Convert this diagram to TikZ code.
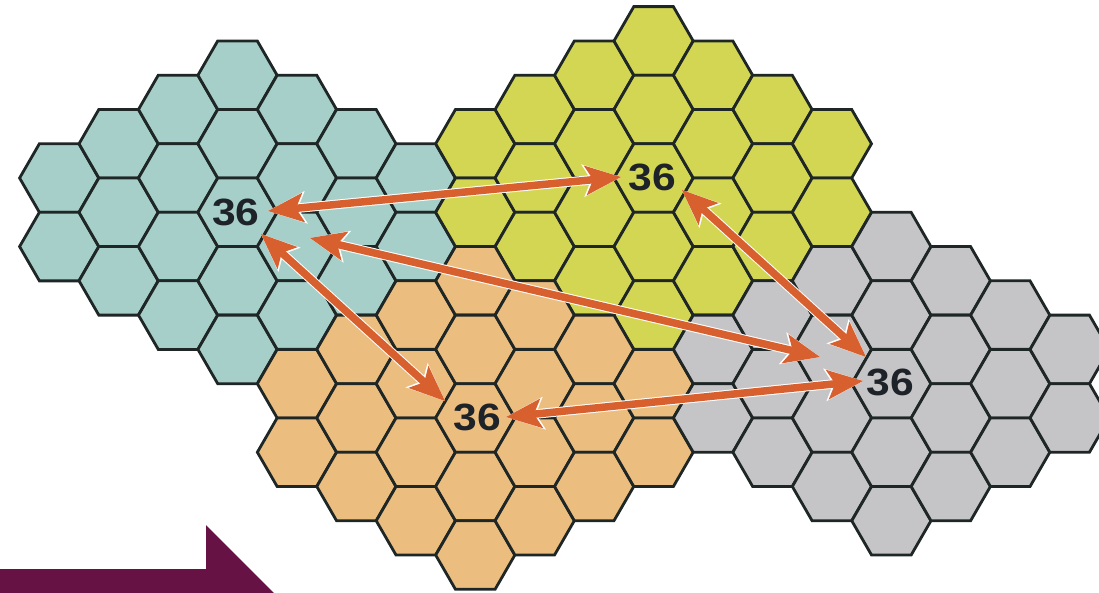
\documentclass[tikz,border=0pt]{standalone}
\usepackage{fontspec}
\newfontfamily\numfont{Liberation Sans}[FakeStretch=1.12]
\usetikzlibrary{arrows.meta}
\definecolor{cyanc}{HTML}{A6CFC9}
\definecolor{yelc}{HTML}{D2D652}
\definecolor{orac}{HTML}{EBBE80}
\definecolor{grac}{HTML}{C5C5C7}
\definecolor{edgec}{HTML}{1F2626}
\definecolor{arrc}{HTML}{D85F2E}
\definecolor{purc}{HTML}{661245}
\definecolor{numc}{HTML}{1E2229}
\newcommand\hexcluster[3]{%
  \foreach \hxdc in {-3,...,3}{%
    \pgfmathtruncatemacro\hxn{5-abs(\hxdc)}%
    \pgfmathtruncatemacro\hxnm{\hxn-1}%
    \foreach \hxk in {0,...,\hxnm}{%
      \pgfmathsetmacro\hxcx{237.5+59.44*(#1+\hxdc)}%
      \pgfmathsetmacro\hxcy{75.2+68.55*(#2+\hxk-(\hxn-1)/2)}%
      \filldraw[hexcell,fill=#3] (\hxcx+39.58,\hxcy) -- (\hxcx+19.79,\hxcy+34.28)
        -- (\hxcx-19.79,\hxcy+34.28) -- (\hxcx-39.58,\hxcy)
        -- (\hxcx-19.79,\hxcy-34.28) -- (\hxcx+19.79,\hxcy-34.28) -- cycle;
    }%
  }%
}
\begin{document}
\begin{tikzpicture}[x=1pt,y=-1pt,
  hexcell/.style={draw=edgec,line width=2.8pt,line join=miter},
  numlabel/.style={inner sep=0pt,text=numc,font=\numfont\bfseries\fontsize{38}{40}\selectfont},
  link/.style={draw=arrc,line width=7.5pt,
    {Stealth[length=36pt,width=30pt,inset=8pt,line width=0pt]}-{Stealth[length=36pt,width=30pt,inset=8pt,line width=0pt]},
    preaction={draw=white,line width=9.5pt,
      {Stealth[length=38.5pt,width=33pt,inset=8.5pt,line width=0pt]}-{Stealth[length=38.5pt,width=33pt,inset=8.5pt,line width=0pt]}}}]
\useasboundingbox (0,0) rectangle (1099,593);
\clip (0,0) rectangle (1099,593);
\fill[white] (0,0) rectangle (1099,593);
\hexcluster{0}{2}{cyanc}
\hexcluster{7}{1.5}{yelc}
\hexcluster{4}{5}{orac}
\hexcluster{11}{4.5}{grac}
\node[numlabel] (n1) at (236,212) {36};
\node[numlabel] (n2) at (652,177) {36};
\node[numlabel] (n3) at (477,417) {36};
\node[numlabel] (n4) at (890,382) {36};
\coordinate (t1a) at (268,211);
\coordinate (t1b) at (621,177);
\coordinate (t2a) at (310,238);
\coordinate (t2b) at (820,357);
\coordinate (t3a) at (261,234);
\coordinate (t3b) at (445,401);
\coordinate (t4a) at (682,190);
\coordinate (t4b) at (866,357);
\coordinate (t5a) at (506,417);
\coordinate (t5b) at (863,381);
\draw[link] (t1a) -- (t1b);
\draw[link] (t2a) -- (t2b);
\draw[link] (t3a) -- (t3b);
\draw[link] (t4a) -- (t4b);
\draw[link] (t5a) -- (t5b);
\fill[purc] (-5,569) -- (206,569) -- (206,525) -- (310,629) -- (-5,629) -- cycle;
\end{tikzpicture}
\end{document}
